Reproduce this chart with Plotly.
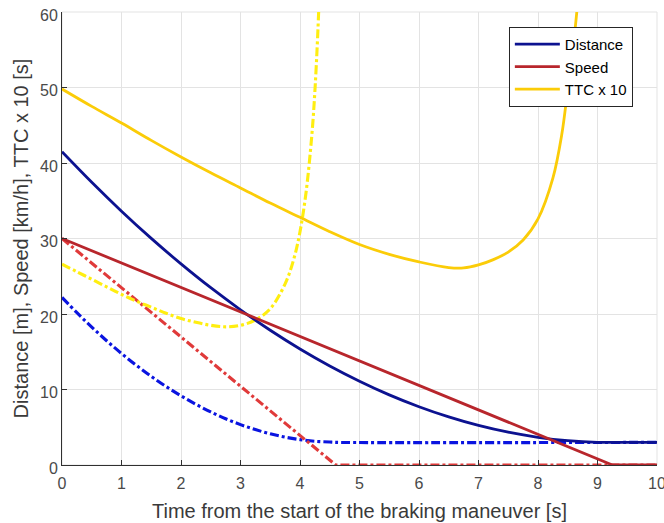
import plotly.graph_objects as go

# Scenario 1 (solid)
t_dist1 = [0, 0.5, 1, 1.5, 2, 2.5, 3, 3.5, 4, 4.5, 5, 5.5, 6, 6.5, 7, 7.5, 8, 8.5, 9, 9.5, 10]
dist1 = [41.5, 37.45, 33.62, 30.01, 26.64, 23.48, 20.56, 17.85, 15.37, 13.12, 11.10,
         9.29, 7.72, 6.37, 5.24, 4.34, 3.67, 3.22, 3.0, 3.0, 3.0]
t_speed1 = [0, 9.25, 10]
speed1 = [30, 0, 0]
t_ttc1 = [0, 0.5, 1, 1.5, 2, 2.5, 3, 3.5, 4, 4.5, 5, 5.5, 6, 6.5, 6.75, 7, 7.25, 7.5,
          7.75, 8, 8.25, 8.4, 8.5, 8.6, 8.7]
ttc1 = [49.8, 47.5, 45.3, 43.0, 40.8, 38.7, 36.7, 34.7, 32.8, 30.9, 29.2, 27.9, 26.9,
        26.15, 26.1, 26.5, 27.2, 28.2, 29.8, 32.6, 38.0, 43.8, 49.8, 56.0, 64.0]

# Scenario 2 (dash-dot)
t_dist2 = [0, 0.25, 0.5, 0.75, 1, 1.25, 1.5, 1.75, 2, 2.25, 2.5, 2.75, 3, 3.25, 3.5,
           3.75, 4, 4.25, 4.5, 4.6, 10]
dist2 = [22.2, 20.17, 18.26, 16.46, 14.77, 13.20, 11.74, 10.39, 9.16, 8.04, 7.03, 6.13,
         5.35, 4.69, 4.13, 3.69, 3.36, 3.14, 3.04, 3.0, 3.0]
t_speed2 = [0, 4.6, 10]
speed2 = [30, 0, 0]
t_ttc2 = [0, 0.25, 0.5, 0.75, 1, 1.25, 1.5, 1.75, 2, 2.25, 2.5, 2.75, 3, 3.25, 3.5, 3.75,
          3.9, 4.0, 4.1, 4.2, 4.25, 4.3, 4.35]
ttc2 = [26.6, 25.6, 24.6, 23.6, 22.6, 21.7, 20.9, 20.1, 19.4, 18.9, 18.5, 18.3, 18.5, 19.2,
        20.7, 24.0, 27.4, 30.9, 36.0, 43.8, 49.5, 57.4, 68.2]

x_ticks = list(range(0, 11))
y_ticks = [0, 10, 20, 30, 40, 50, 60]

fig = go.Figure()
W = 2.8
WD = 3.1
DD = "9px,3px,3px,3px"
fig.add_trace(go.Scatter(x=t_dist2, y=dist2, mode="lines", showlegend=False,
                         line=dict(color="#0a14e0", width=WD, dash=DD, shape="spline")))
fig.add_trace(go.Scatter(x=t_speed2, y=speed2, mode="lines", showlegend=False,
                         line=dict(color="#e03a3a", width=WD, dash=DD)))
fig.add_trace(go.Scatter(x=t_ttc2, y=ttc2, mode="lines", showlegend=False,
                         line=dict(color="#ffee10", width=WD, dash=DD, shape="spline")))
fig.add_trace(go.Scatter(x=t_dist1, y=dist1, mode="lines", name="Distance",
                         line=dict(color="#0c1290", width=W, shape="spline")))
fig.add_trace(go.Scatter(x=t_speed1, y=speed1, mode="lines", name="Speed",
                         line=dict(color="#b8262c", width=W)))
fig.add_trace(go.Scatter(x=t_ttc1, y=ttc1, mode="lines", name="TTC x 10",
                         line=dict(color="#fbcc08", width=W, shape="spline")))

fig.update_layout(
    width=664, height=523,
    margin=dict(l=62, r=7, t=12, b=58),
    paper_bgcolor="white", plot_bgcolor="white",
    font=dict(family="Liberation Sans, Arial, sans-serif", size=16, color="#4a4a4a"),
    legend=dict(x=0.751, y=0.967, xanchor="left", yanchor="top",
                bgcolor="white", bordercolor="#262626", borderwidth=1,
                font=dict(size=15, color="#000000"), tracegroupgap=0,
                itemwidth=45),
    xaxis=dict(range=[0, 10], tickvals=x_ticks, ticktext=[str(v) for v in x_ticks],
               showgrid=True, gridcolor="#e3e3e3", gridwidth=1,
               showline=True, linecolor="#303030", linewidth=1,
               ticks="inside", ticklen=5, tickcolor="#303030",
               zeroline=False, automargin=False, ticklabeloverflow="allow",
               ticklabelstandoff=4,
               title=dict(text="Time from the start of the braking maneuver [s]",
                          font=dict(size=20, color="#3a3a3a"), standoff=12)),
    yaxis=dict(range=[0, 60], tickvals=y_ticks, ticktext=[str(v) for v in y_ticks],
               showgrid=True, gridcolor="#e3e3e3", gridwidth=1,
               showline=True, linecolor="#303030", linewidth=1,
               ticks="inside", ticklen=5, tickcolor="#303030",
               zeroline=False, automargin=False, ticklabeloverflow="allow",
               ticklabelshift=3,
               title=dict(text="Distance [m], Speed [km/h], TTC x 10 [s]",
                          font=dict(size=20, color="#3a3a3a"), standoff=6)),
)
fig.add_shape(type="rect", xref="paper", yref="paper", x0=0, y0=0, x1=1, y1=1,
              line=dict(color="#e3e3e3", width=1), layer="below")

fig.write_html("out.html", config={"displayModeBar": False},
               post_script="document.body.style.margin='0';document.body.style.padding='0';")
